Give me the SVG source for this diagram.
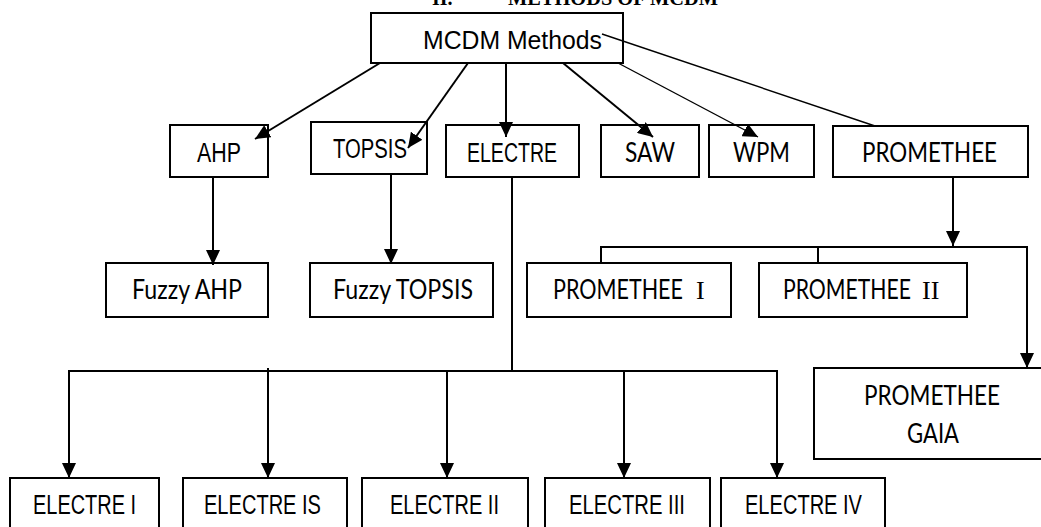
<svg xmlns="http://www.w3.org/2000/svg" width="1041" height="527" viewBox="0 0 1041 527">
<style>
.box{fill:#fff;stroke:#000;stroke-width:2}
.ln{fill:none;stroke:#000;stroke-width:2}
.thin{fill:none;stroke:#000;stroke-width:1.4}
.arw{marker-end:url(#ah)}
.a{font-family:"Liberation Sans",Arial,sans-serif;font-size:26px;fill:#000}
.n{font-family:"Liberation Sans Narrow","Liberation Sans",Arial,sans-serif;font-size:27px;fill:#000}
.c{font-family:Lato,"Open Sans",sans-serif;font-size:26px;fill:#000}
.s{font-family:"Liberation Serif","Times New Roman",serif;font-size:26px}
.h{font-family:"Liberation Serif","Times New Roman",serif;font-size:20px;font-weight:bold;fill:#000}
</style>
<defs>
<marker id="ah" markerUnits="userSpaceOnUse" markerWidth="15" markerHeight="14" refX="15" refY="7" orient="auto" viewBox="0 0 15 14">
<path d="M0,0 L15,7 L0,14 z" fill="#000"/>
</marker>
</defs>
<rect width="1041" height="527" fill="#fff"/>
<g id="heading">
<text class="h" x="432" y="4.5">II.</text>
<text class="h" x="508" y="4.5" textLength="210" lengthAdjust="spacingAndGlyphs">METHODS OF MCDM</text>
</g>
<g id="mcdm">
<rect class="box" x="371" y="13" width="252" height="50"/>
<text class="a" x="423" y="49" textLength="179" lengthAdjust="spacingAndGlyphs">MCDM Methods</text>
</g>
<g id="ahp">
<rect class="box" x="170" y="125" width="98" height="52"/>
<text class="n" x="197" y="162" textLength="44" lengthAdjust="spacingAndGlyphs">AHP</text>
</g>
<g id="topsis">
<rect class="box" x="311" y="122" width="116" height="52"/>
<text class="n" x="333" y="158" textLength="74" lengthAdjust="spacingAndGlyphs">TOPSIS</text>
</g>
<g id="electre">
<rect class="box" x="446" y="125" width="133" height="52"/>
<text class="n" x="467" y="162" textLength="90" lengthAdjust="spacingAndGlyphs">ELECTRE</text>
</g>
<g id="saw">
<rect class="box" x="601" y="125" width="98" height="52"/>
<text class="c" x="625" y="162" textLength="50" lengthAdjust="spacingAndGlyphs">SAW</text>
</g>
<g id="wpm">
<rect class="box" x="709" y="125" width="105" height="52"/>
<text class="c" x="733" y="162" textLength="57" lengthAdjust="spacingAndGlyphs">WPM</text>
</g>
<g id="promethee">
<rect class="box" x="833" y="126" width="195" height="51"/>
<text class="c" x="862" y="162" textLength="135" lengthAdjust="spacingAndGlyphs">PROMETHEE</text>
</g>
<g id="fuzzy-ahp">
<rect class="box" x="106" y="263" width="162" height="54"/>
<text class="c" x="132" y="299" textLength="110" lengthAdjust="spacingAndGlyphs">Fuzzy AHP</text>
</g>
<g id="fuzzy-topsis">
<rect class="box" x="310" y="263" width="183" height="54"/>
<text class="c" x="333" y="299" textLength="140" lengthAdjust="spacingAndGlyphs">Fuzzy TOPSIS</text>
</g>
<g id="promethee-1">
<rect class="box" x="527" y="263" width="204" height="54"/>
<text class="c" x="553" y="299"><tspan textLength="130" lengthAdjust="spacingAndGlyphs">PROMETHEE</tspan><tspan class="s" x="696">I</tspan></text>
</g>
<g id="promethee-2">
<rect class="box" x="759" y="263" width="208" height="54"/>
<text class="c" x="783" y="299"><tspan textLength="128" lengthAdjust="spacingAndGlyphs">PROMETHEE</tspan><tspan class="s" x="922">II</tspan></text>
</g>
<g id="promethee-gaia">
<rect class="box" x="814" y="368" width="240" height="91"/>
<text class="c" x="864" y="405" textLength="136" lengthAdjust="spacingAndGlyphs">PROMETHEE</text>
<text class="c" x="907" y="443" textLength="52" lengthAdjust="spacingAndGlyphs">GAIA</text>
</g>
<g id="electre-1">
<rect class="box" x="10" y="478" width="149" height="60"/>
<text class="n" x="33" y="514" textLength="103" lengthAdjust="spacingAndGlyphs">ELECTRE I</text>
</g>
<g id="electre-is">
<rect class="box" x="183" y="478" width="164" height="60"/>
<text class="n" x="204" y="514" textLength="117" lengthAdjust="spacingAndGlyphs">ELECTRE IS</text>
</g>
<g id="electre-2">
<rect class="box" x="362" y="478" width="166" height="60"/>
<text class="n" x="390" y="514" textLength="109" lengthAdjust="spacingAndGlyphs">ELECTRE II</text>
</g>
<g id="electre-3">
<rect class="box" x="545" y="478" width="165" height="60"/>
<text class="n" x="569" y="514" textLength="116" lengthAdjust="spacingAndGlyphs">ELECTRE III</text>
</g>
<g id="electre-4">
<rect class="box" x="721" y="478" width="164" height="60"/>
<text class="n" x="745" y="514" textLength="117" lengthAdjust="spacingAndGlyphs">ELECTRE IV</text>
</g>
<g id="connectors">
<line class="ln arw" x1="380" y1="63" x2="255" y2="139"/>
<line class="ln arw" x1="468" y1="63" x2="408" y2="148"/>
<line class="ln arw" x1="506" y1="63" x2="506" y2="137"/>
<line class="ln arw" x1="563" y1="63" x2="653" y2="137"/>
<line class="thin arw" x1="618" y1="63" x2="758" y2="137"/>
<line class="thin" x1="602" y1="34" x2="875" y2="126" stroke-width="1.6"/>
<line class="ln arw" x1="213" y1="177" x2="213" y2="265"/>
<line class="ln arw" x1="391" y1="174" x2="391" y2="264"/>
<line class="ln arw" x1="953" y1="177" x2="953" y2="246"/>
<polyline class="ln" points="601,263 601,247 1027,247"/>
<line class="ln" x1="818" y1="247" x2="818" y2="263"/>
<line class="ln arw" x1="1027" y1="246" x2="1027" y2="368"/>
<line class="ln" x1="512" y1="177" x2="512" y2="371"/>
<polyline class="ln" points="69,371 777,371"/>
<line class="ln arw" x1="69" y1="370" x2="69" y2="478"/>
<line class="ln arw" x1="268" y1="368" x2="268" y2="478"/>
<line class="ln arw" x1="447" y1="371" x2="447" y2="478"/>
<line class="ln arw" x1="624" y1="371" x2="624" y2="478"/>
<line class="ln arw" x1="777" y1="370" x2="777" y2="478"/>
</g>
</svg>
